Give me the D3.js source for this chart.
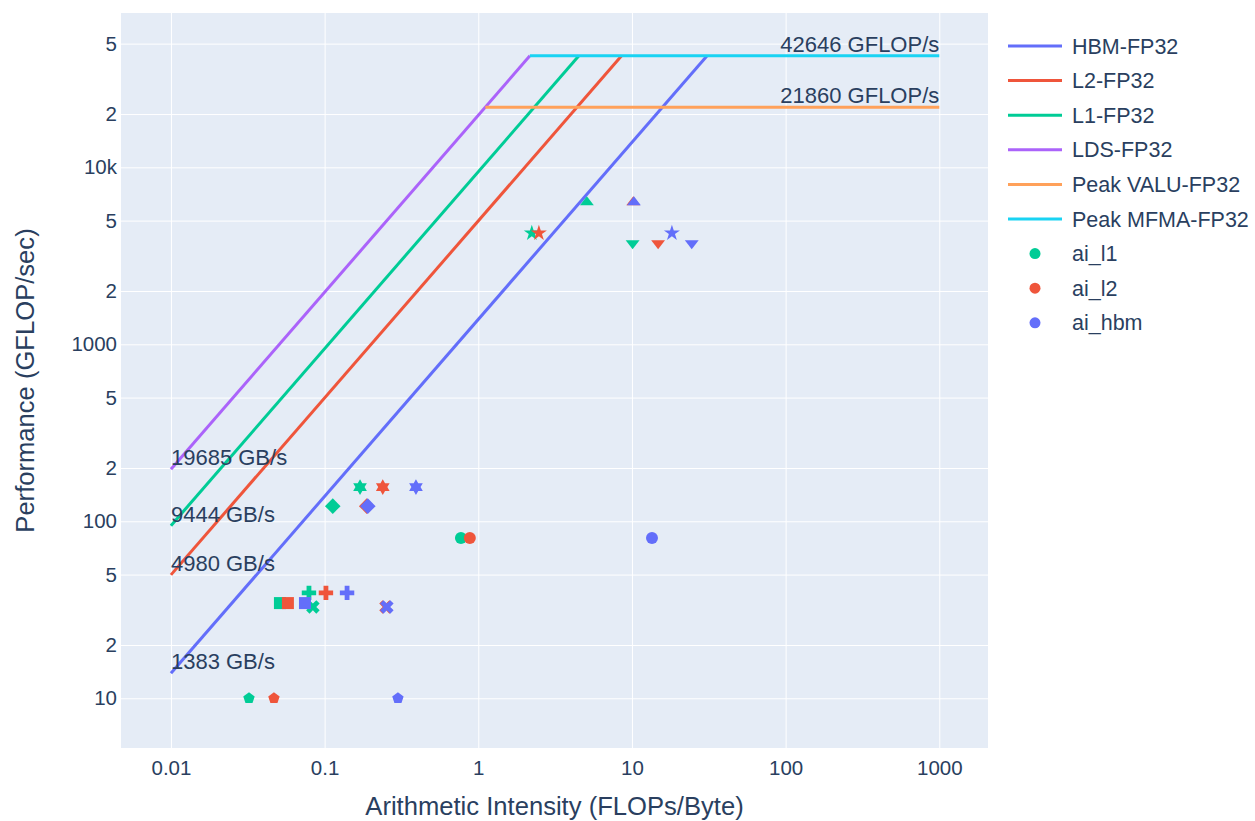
<!DOCTYPE html>
<html><head><meta charset="utf-8">
<script src="https://cdn.jsdelivr.net/npm/d3@7"></script>
<style>html,body{margin:0;padding:0;background:#fff;}svg{display:block;}</style>
</head><body>
<svg id="chart" width="1255" height="821"></svg>
<script>
// ---- data ----
const rooflineNames = ["HBM-FP32", "L2-FP32", "L1-FP32", "LDS-FP32"];
const bandwidths = [1383, 4980, 9444, 19685];           // GB/s
const peakNames = ["Peak VALU-FP32", "Peak MFMA-FP32"];
const peaks = [21860, 42646];                           // GFLOP/s
const seriesNames = ["ai_l1", "ai_l2", "ai_hbm"];
const kernelSymbols = ["circle","square","diamond","cross","x","triangle-up","triangle-down","pentagon","hexagram","star"];
const kernelPerf = [80.4, 34.5, 121.8, 39.4, 32.8, 6340, 3730, 10, 156, 4250];   // GFLOP/s
const aiL1  = [0.771, 0.0512, 0.113, 0.0791, 0.0839, 5.09, 10.1, 0.0322, 0.170, 2.23];
const aiL2  = [0.881, 0.0577, 0.188, 0.102, 0.251, 10.2, 14.8, 0.0468, 0.239, 2.48];
const aiHbm = [13.5, 0.0745, 0.191, 0.140, 0.254, 10.3, 24.5, 0.300, 0.393, 18.2];
const xTicks = [0.01, 0.1, 1, 10, 100, 1000];
const xTickLabels = ["0.01", "0.1", "1", "10", "100", "1000"];
const yTicks = [10, 20, 50, 100, 200, 500, 1000, 2000, 5000, 10000, 20000, 50000];
const yTickLabels = ["10", "2", "5", "100", "2", "5", "1000", "2", "5", "10k", "2", "5"];
const xMinAI = 0.01, xMaxAI = 1000;

// ---- styles ----
const rooflineColors = ["#636efa", "#EF553B", "#00cc96", "#ab63fa"];
const peakColors = ["#FFA15A", "#19d3f3"];
const seriesColors = ["#00cc96", "#EF553B", "#636efa"];
const FONT = "'Liberation Sans', Arial, sans-serif";
const TXT = "#2a3f5f";

const svg = d3.select("#chart");
const L = 121, R = 988, T = 13, B = 748;
const x = d3.scaleLog().domain([Math.pow(10, -2.325), Math.pow(10, 3.317)]).range([L, R]);
const y = d3.scaleLog().domain([Math.pow(10, 0.719), Math.pow(10, 4.872)]).range([B, T]);

svg.append("rect").attr("width", 1255).attr("height", 821).attr("fill", "#fff");
svg.append("rect").attr("x", L).attr("y", T).attr("width", R - L).attr("height", B - T).attr("fill", "#E5ECF6");

// grid
const gy = svg.append("g").attr("transform", `translate(${L},0)`)
  .call(d3.axisLeft(y).tickValues(yTicks).tickSize(-(R - L)).tickFormat(""));
gy.select(".domain").remove();
gy.selectAll("line").attr("stroke", "#fff").attr("stroke-width", 1);
const gx = svg.append("g").attr("transform", `translate(0,${B})`)
  .call(d3.axisBottom(x).tickValues(xTicks).tickSize(-(B - T)).tickFormat(""));
gx.select(".domain").remove();
gx.selectAll("line").attr("stroke", "#fff").attr("stroke-width", 1);

// tick labels
const yl = svg.append("g").attr("transform", `translate(${L},0)`)
  .call(d3.axisLeft(y).tickValues(yTicks).tickSize(0).tickPadding(4).tickFormat((d, i) => yTickLabels[i]));
yl.select(".domain").remove();
yl.selectAll("text").attr("fill", TXT).attr("font-family", FONT).attr("font-size", 20.5);
const xl = svg.append("g").attr("transform", `translate(0,${B})`)
  .call(d3.axisBottom(x).tickValues(xTicks).tickSize(0).tickPadding(12).tickFormat((d, i) => xTickLabels[i]));
xl.select(".domain").remove();
xl.selectAll("text").attr("fill", TXT).attr("font-family", FONT).attr("font-size", 20.5);

// axis titles
svg.append("text").attr("x", (L + R) / 2).attr("y", 815).attr("text-anchor", "middle")
  .attr("fill", TXT).attr("font-family", FONT).attr("font-size", 25.6).text("Arithmetic Intensity (FLOPs/Byte)");
svg.append("text").attr("transform", `translate(34,${(T + B) / 2}) rotate(-90)`).attr("text-anchor", "middle")
  .attr("fill", TXT).attr("font-family", FONT).attr("font-size", 25.6).text("Performance (GFLOP/sec)");

// clip
svg.append("clipPath").attr("id", "clip").append("rect").attr("x", L).attr("y", T).attr("width", R - L).attr("height", B - T);
const plot = svg.append("g").attr("clip-path", "url(#clip)");
const line = d3.line().x(d => x(d[0])).y(d => y(d[1]));
const maxPeak = d3.max(peaks);
const ldsBw = d3.max(bandwidths);

bandwidths.forEach((bw, i) => {
  const pts = [[xMinAI, bw * xMinAI], [maxPeak / bw, maxPeak]];
  plot.append("path").attr("d", line(pts)).attr("fill", "none").attr("stroke", rooflineColors[i]).attr("stroke-width", 3);
});
peaks.forEach((p, i) => {
  const pts = [[p / ldsBw, p], [xMaxAI, p]];
  plot.append("path").attr("d", line(pts)).attr("fill", "none").attr("stroke", peakColors[i]).attr("stroke-width", 3);
});

// symbols (plotly-style)
function symbolPath(name, r) {
  const f = v => (+v).toFixed(2);
  switch (name) {
    case "circle": return `M${f(r)},0A${f(r)},${f(r)} 0 1,1 0,-${f(r)}A${f(r)},${f(r)} 0 0,1 ${f(r)},0Z`;
    case "square": return `M${f(r)},${f(r)}H-${f(r)}V-${f(r)}H${f(r)}Z`;
    case "diamond": { const d = r * 1.3; return `M${f(d)},0L0,${f(d)}L-${f(d)},0L0,-${f(d)}Z`; }
    case "cross": { const a = r * 1.2, b = r * 0.4;
      return `M${f(a)},${f(b)}H${f(b)}V${f(a)}H-${f(b)}V${f(b)}H-${f(a)}V-${f(b)}H-${f(b)}V-${f(a)}H${f(b)}V-${f(b)}H${f(a)}Z`; }
    case "x": { const rx = r * 0.8 / Math.sqrt(2);
      const ne = `l${f(rx)},${f(rx)}`, se = `l${f(rx)},-${f(rx)}`, sw = `l-${f(rx)},-${f(rx)}`, nw = `l-${f(rx)},${f(rx)}`;
      return `M0,${f(rx)}` + ne + se + sw + se + sw + nw + sw + nw + ne + nw + ne + "Z"; }
    case "triangle-up": { const rt = r * 2 / Math.sqrt(3), r2 = r / 2; return `M-${f(rt)},${f(r2)}H${f(rt)}L0,-${f(r)}Z`; }
    case "triangle-down": { const rt = r * 2 / Math.sqrt(3), r2 = r / 2; return `M-${f(rt)},-${f(r2)}H${f(rt)}L0,${f(r)}Z`; }
    case "pentagon": { const x1 = r * 0.951, x2 = r * 0.588, y0 = -r, y1 = -r * 0.309, y2 = r * 0.809;
      return `M${f(x1)},${f(y1)}L${f(x2)},${f(y2)}H-${f(x2)}L-${f(x1)},${f(y1)}L0,${f(y0)}Z`; }
    case "hexagram": { const yy = r * 0.66, x1 = r * 0.38, x2 = r * 0.76;
      return `M-${f(x2)},0l-${f(x1)},-${f(yy)}h${f(x2)}l${f(x1)},-${f(yy)}l${f(x1)},${f(yy)}h${f(x2)}l-${f(x1)},${f(yy)}l${f(x1)},${f(yy)}h-${f(x2)}l-${f(x1)},${f(yy)}l-${f(x1)},-${f(yy)}h-${f(x2)}Z`; }
    case "star": { const rs = r * 1.4, x1 = rs * 0.225, x2 = rs * 0.951, x3 = rs * 0.363, x4 = rs * 0.588,
      y0 = -rs, y1 = -rs * 0.309, y3 = rs * 0.118, y4 = rs * 0.809, y5 = rs * 0.382;
      return `M${f(x1)},${f(y1)}H${f(x2)}L${f(x3)},${f(y3)}L${f(x4)},${f(y4)}L0,${f(y5)}L-${f(x4)},${f(y4)}L-${f(x3)},${f(y3)}L-${f(x2)},${f(y1)}H-${f(x1)}L0,${f(y0)}Z`; }
  }
}

const seriesAI = [aiL1, aiL2, aiHbm];
const MR = 6;
seriesAI.forEach((arr, si) => {
  plot.append("g").selectAll("path").data(arr).join("path")
    .attr("transform", (d, i) => `translate(${x(d)},${y(kernelPerf[i])})`)
    .attr("d", (d, i) => symbolPath(kernelSymbols[i], MR))
    .attr("fill", seriesColors[si]);
});

// annotations
const annFont = 22;
bandwidths.forEach(bw => {
  svg.append("text").attr("x", x(xMinAI)).attr("y", y(bw * xMinAI) - 4)
    .attr("fill", TXT).attr("font-family", FONT).attr("font-size", annFont).text(`${bw} GB/s`);
});
peaks.forEach(p => {
  svg.append("text").attr("x", x(xMaxAI)).attr("y", y(p) - 4).attr("text-anchor", "end")
    .attr("fill", TXT).attr("font-family", FONT).attr("font-size", annFont).text(`${p} GFLOP/s`);
});

// legend
const legendItems = [];
rooflineNames.forEach((n, i) => legendItems.push({ name: n, color: rooflineColors[i], type: "line" }));
peakNames.forEach((n, i) => legendItems.push({ name: n, color: peakColors[i], type: "line" }));
seriesNames.forEach((n, i) => legendItems.push({ name: n, color: seriesColors[i], type: "dot" }));
const lg = svg.append("g");
legendItems.forEach((it, i) => {
  const yy = 46 + i * 34.6;
  if (it.type === "line") {
    lg.append("line").attr("x1", 1008).attr("x2", 1062).attr("y1", yy).attr("y2", yy)
      .attr("stroke", it.color).attr("stroke-width", 3);
  } else {
    lg.append("path").attr("transform", `translate(1035,${yy})`).attr("d", symbolPath("circle", 5.5)).attr("fill", it.color);
  }
  lg.append("text").attr("x", 1072).attr("y", yy).attr("dy", "0.35em")
    .attr("fill", TXT).attr("font-family", FONT).attr("font-size", 21.5).text(it.name);
});
</script>
</body></html>
